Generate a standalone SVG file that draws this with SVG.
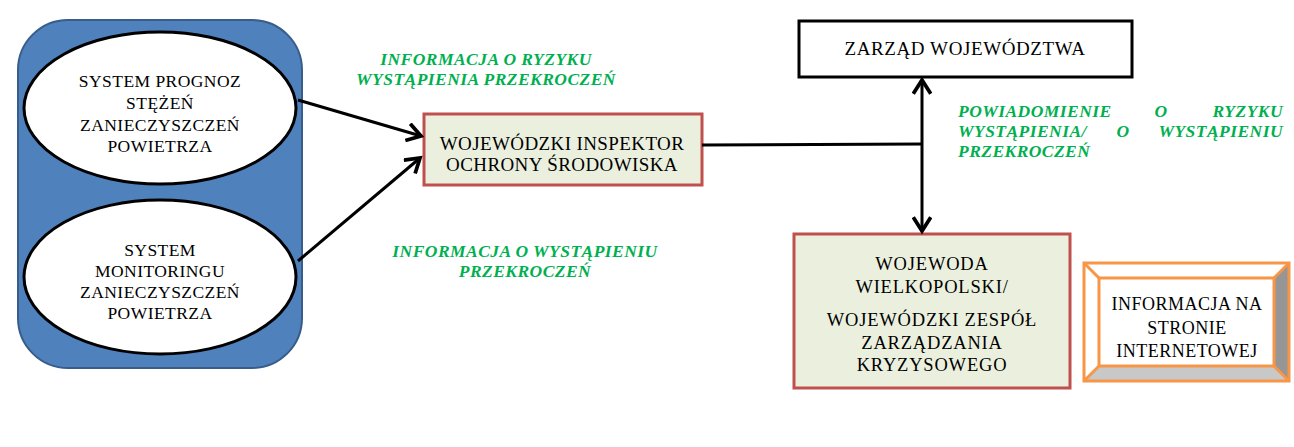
<svg xmlns="http://www.w3.org/2000/svg" width="1294" height="447" viewBox="0 0 1294 447">
<defs>
<style>
.t{font-family:'Liberation Serif','DejaVu Serif',serif;font-size:17.5px;letter-spacing:0.45px;fill:#000;text-anchor:middle}
.g{font-family:'Liberation Serif','DejaVu Serif',serif;font-size:17.5px;letter-spacing:0.45px;font-weight:bold;font-style:italic;fill:#00B050}
.ell{fill:#fff;stroke:#000;stroke-width:3}
.red{fill:#EBF0DE;stroke:#C0504D;stroke-width:3}
.conn{fill:none;stroke:#000;stroke-width:3}
.or{stroke:#F79646;stroke-width:3;stroke-linejoin:miter}
</style>
<marker id="arr" markerUnits="userSpaceOnUse" markerWidth="20" markerHeight="20" refX="13" refY="8" orient="auto-start-reverse" viewBox="0 0 16 16">
<path d="M2,1 L13,8 L2,15" fill="none" stroke="#000" stroke-width="3"/>
</marker>
</defs>
<rect width="1294" height="447" fill="#fff"/>

<g id="source-group">
<rect x="18" y="20" width="284" height="348" rx="50" ry="50" fill="#4F81BD" stroke="#385D8A" stroke-width="2"/>
</g>

<g id="node-prognoz">
<ellipse class="ell" cx="160" cy="108" rx="136" ry="76"/>
<text class="t" x="160" y="87">SYSTEM PROGNOZ</text>
<text class="t" x="160" y="109">STĘŻEŃ</text>
<text class="t" x="160" y="131">ZANIECZYSZCZEŃ</text>
<text class="t" x="160" y="152">POWIETRZA</text>
</g>

<g id="node-monitoring">
<ellipse class="ell" cx="160" cy="277" rx="136" ry="77"/>
<text class="t" x="160" y="256">SYSTEM</text>
<text class="t" x="160" y="277">MONITORINGU</text>
<text class="t" x="160" y="298">ZANIECZYSZCZEŃ</text>
<text class="t" x="160" y="319">POWIETRZA</text>
</g>

<g id="node-wios">
<rect class="red" x="424" y="114" width="278" height="71"/>
<text class="t" x="562" y="150" style="font-size:19px;letter-spacing:0.4px">WOJEWÓDZKI INSPEKTOR</text>
<text class="t" x="562" y="171" style="font-size:19px;letter-spacing:0.4px">OCHRONY ŚRODOWISKA</text>
</g>

<g id="node-zarzad">
<rect x="799" y="21" width="333" height="56" fill="#fff" stroke="#000" stroke-width="3"/>
<text class="t" x="965" y="55" style="font-size:19px;letter-spacing:0.6px">ZARZĄD WOJEWÓDZTWA</text>
</g>

<g id="node-wojewoda">
<rect class="red" x="794" y="234" width="276" height="154"/>
<g style="font-size:18.5px;letter-spacing:0.8px">
<text class="t" x="932" y="270" style="font-size:18.5px;letter-spacing:0.8px">WOJEWODA</text>
<text class="t" x="932" y="293" style="font-size:18.5px;letter-spacing:0.8px">WIELKOPOLSKI/</text>
<text class="t" x="932" y="326" style="font-size:18.5px;letter-spacing:0.8px">WOJEWÓDZKI ZESPÓŁ</text>
<text class="t" x="932" y="349" style="font-size:18.5px;letter-spacing:0.8px">ZARZĄDZANIA</text>
<text class="t" x="932" y="371" style="font-size:18.5px;letter-spacing:0.8px">KRYZYSOWEGO</text>
</g>
</g>

<g id="node-internet">
<polygon points="1084,263 1289,263 1274,278 1099,278" fill="#fff"/>
<polygon points="1084,263 1099,278 1099,366 1084,381" fill="#fff"/>
<polygon points="1289,263 1289,381 1274,366 1274,278" fill="#969696"/>
<polygon points="1084,381 1289,381 1274,366 1099,366" fill="#C8C8C8"/>
<rect x="1099" y="278" width="175" height="88" fill="#fff"/>
<g class="or" fill="none">
<rect x="1084" y="263" width="205" height="118"/>
<rect x="1099" y="278" width="175" height="88"/>
<path d="M1084,263 L1099,278 M1289,263 L1274,278 M1084,381 L1099,366 M1289,381 L1274,366"/>
</g>
<text class="t" x="1187" y="310" style="font-size:18px;letter-spacing:0.5px">INFORMACJA NA</text>
<text class="t" x="1187" y="334" style="font-size:18px;letter-spacing:0.5px">STRONIE</text>
<text class="t" x="1187" y="357" style="font-size:18px;letter-spacing:0.5px">INTERNETOWEJ</text>
</g>

<g id="connectors">
<line class="conn" x1="298" y1="100" x2="421" y2="136" marker-end="url(#arr)"/>
<line class="conn" x1="298" y1="261" x2="420" y2="158" marker-end="url(#arr)"/>
<line class="conn" x1="702" y1="145" x2="923" y2="144"/>
<line class="conn" x1="922" y1="80" x2="922" y2="231" marker-start="url(#arr)" marker-end="url(#arr)"/>
</g>

<g id="labels">
<text class="g" x="486" y="65" text-anchor="middle">INFORMACJA O RYZYKU</text>
<text class="g" x="486" y="85" text-anchor="middle">WYSTĄPIENIA PRZEKROCZEŃ</text>
<text class="g" x="525" y="257" text-anchor="middle">INFORMACJA O WYSTĄPIENIU</text>
<text class="g" x="525" y="277" text-anchor="middle">PRZEKROCZEŃ</text>
<text class="g" y="117"><tspan x="958">POWIADOMIENIE</tspan><tspan x="1161" text-anchor="middle">O</tspan><tspan x="1283" text-anchor="end">RYZYKU</tspan></text>
<text class="g" y="137"><tspan x="958">WYSTĄPIENIA/</tspan><tspan x="1123" text-anchor="middle">O</tspan><tspan x="1283" text-anchor="end">WYSTĄPIENIU</tspan></text>
<text class="g" x="958" y="157">PRZEKROCZEŃ</text>
</g>
</svg>
